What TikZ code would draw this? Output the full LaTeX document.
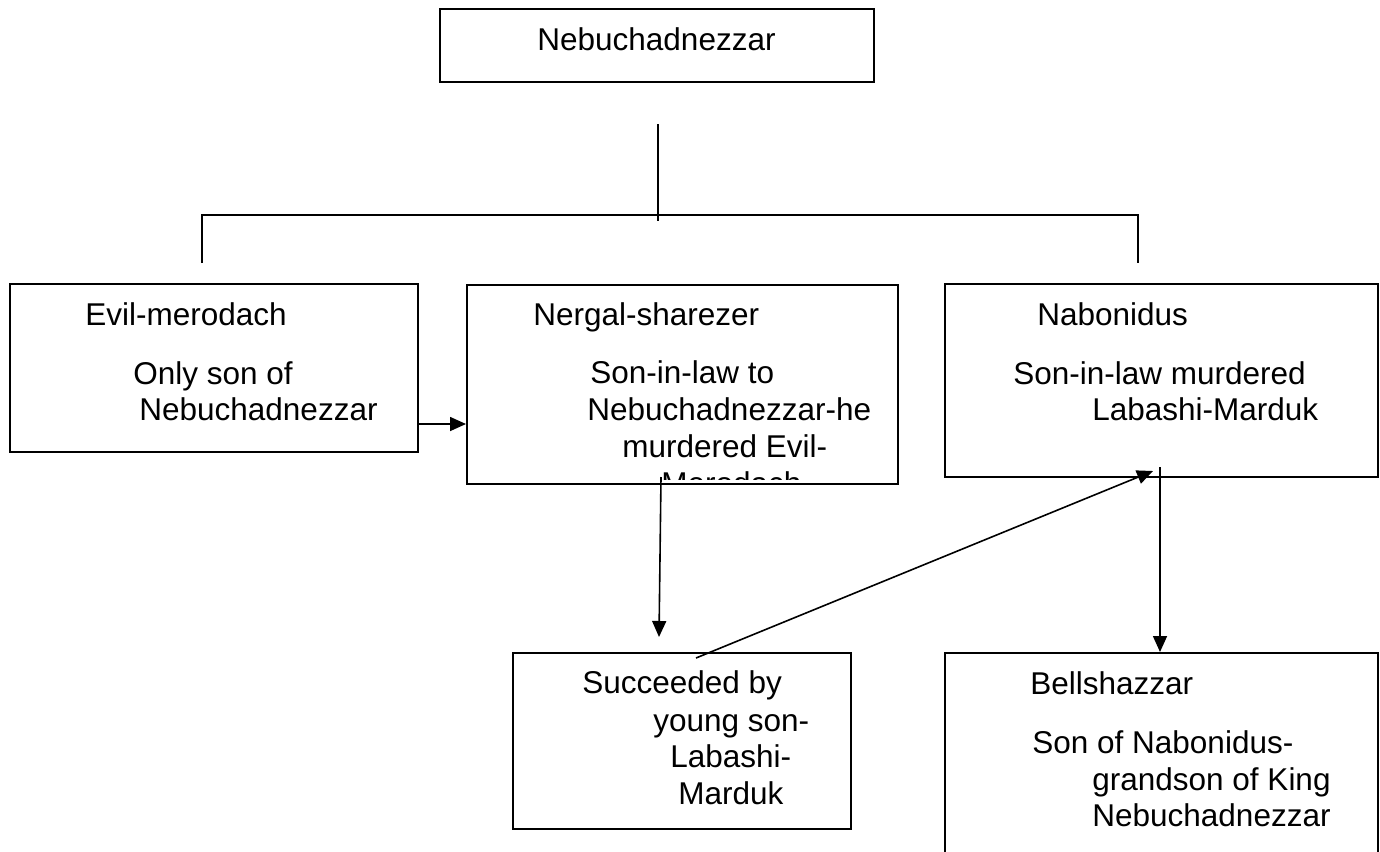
\documentclass[tikz,border=0pt]{standalone}
\usepackage{fontspec}
\setmainfont{Liberation Sans}
\usetikzlibrary{arrows.meta,fit}
\begin{document}
\begin{tikzpicture}[x=0.5pt,y=-0.5pt,
  box/.style={draw,line width=1pt,inner sep=0pt},
  txt/.style={anchor=base west,inner sep=0pt,font=\fontsize{15.75pt}{18.5pt}\selectfont},
  link/.style={line width=0.8pt},
  arr/.style={line width=0.8pt,-{Triangle[length=8pt,width=7pt]}}]
\useasboundingbox (0,0) rectangle (1380,851);
\clip (0,0) rectangle (1380,851);

% boxes
\node[box,fit={(440,9) (874,82)}] (top) {};
\node[box,fit={(10,284) (418,452)}] (b1) {};
\node[box,fit={(467,285) (898,484)}] (b2) {};
\node[box,fit={(945,284) (1378,477)}] (b3) {};
\node[box,fit={(513,653) (851,829)}] (b4) {};
\node[box,fit={(945,653) (1378,900)}] (b5) {};

% texts
\node[txt] (t0) at (537,50) {Nebuchadnezzar};

\node[txt] (t11) at (85,325) {Evil-merodach};
\node[txt] (t12) at (133,384) {Only son of};
\node[txt] (t13) at (139,420) {Nebuchadnezzar};

\node[txt] (t21) at (533,325) {Nergal-sharezer};
\node[txt] (t22) at (590,383) {Son-in-law to};
\node[txt] (t23) at (587,420) {Nebuchadnezzar-he};
\node[txt] (t24) at (622,457) {murdered Evil-};
\begin{scope}
  \clip (467,285) rectangle (898,479);
  \node[txt] (t25) at (661,494) {Merodach};
\end{scope}

\node[txt] (t31) at (1037,325) {Nabonidus};
\node[txt] (t32) at (1013,384) {Son-in-law murdered};
\node[txt] (t33) at (1092,420) {Labashi-Marduk};

\node[txt] (t41) at (582,693) {Succeeded by};
\node[txt] (t42) at (653,731) {young son-};
\node[txt] (t43) at (670,767) {Labashi-};
\node[txt] (t44) at (678,804) {Marduk};

\node[txt] (t51) at (1030,694) {Bellshazzar};
\node[txt] (t52) at (1032,753) {Son of Nabonidus-};
\node[txt] (t53) at (1092,790) {grandson of King};
\node[txt] (t54) at (1092,826) {Nebuchadnezzar};

% tree lines
\coordinate (v1) at (658,124);
\coordinate (v2) at (658,221);
\coordinate (hl) at (202,215);
\coordinate (hr) at (1138,215);
\coordinate (dl) at (202,263);
\coordinate (dr) at (1138,263);
\draw[link] (v1) -- (v2);
\draw[link] (dl) -- (hl) -- (hr) -- (dr);

% arrows
\coordinate (y1) at (0,424);
\draw[arr] (b1.east |- y1) -- (b2.west |- y1);

\coordinate (a1) at (661,477);
\coordinate (a2) at (659,637);
\draw[arr] (a1) -- (a2);

\coordinate (d1) at (696,658);
\coordinate (d2) at (1153,471);
\draw[arr] (d1) -- (d2);

\coordinate (n1) at (1160,467);
\draw[arr] (n1) -- (n1 |- b5.north);
\end{tikzpicture}
\end{document}
